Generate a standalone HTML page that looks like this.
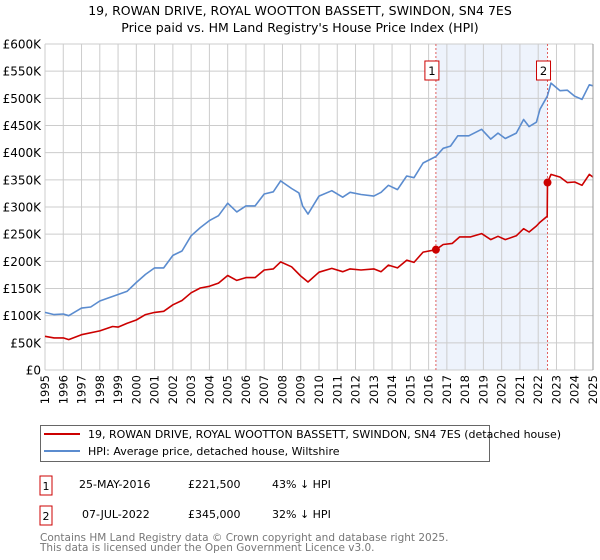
<!DOCTYPE html>
<html><head><meta charset="utf-8"><style>
body{margin:0;background:#fff;font-family:"DejaVu Sans","Liberation Sans",sans-serif;}
svg{display:block}
</style></head><body>
<svg id="chart" width="600" height="560" xmlns="http://www.w3.org/2000/svg" font-family="DejaVu Sans, Liberation Sans, sans-serif">
<text x="300" y="15" text-anchor="middle" font-size="12.5" fill="#000">19, ROWAN DRIVE, ROYAL WOOTTON BASSETT, SWINDON, SN4 7ES</text>
<text x="300" y="32" text-anchor="middle" font-size="12.5" fill="#000">Price paid vs. HM Land Registry's House Price Index (HPI)</text>
<g id="plot"></g>
<g>
<rect x="40.5" y="425.5" width="449" height="36" fill="#fff" stroke="#666"/>
<line x1="44" y1="434" x2="80" y2="434" stroke="#cc0000" stroke-width="2"/>
<text x="88" y="438" font-size="11">19, ROWAN DRIVE, ROYAL WOOTTON BASSETT, SWINDON, SN4 7ES (detached house)</text>
<line x1="44" y1="451" x2="80" y2="451" stroke="#5b8ccf" stroke-width="2"/>
<text x="88" y="455" font-size="11">HPI: Average price, detached house, Wiltshire</text>
</g>
<g font-size="11">
<rect x="40" y="476" width="12" height="19" fill="#fff" stroke="#cc0000"/>
<text x="46" y="490" text-anchor="middle">1</text>
<text x="79" y="488">25-MAY-2016</text>
<text x="188" y="488">£221,500</text>
<text x="272" y="488">43% ↓ HPI</text>
<rect x="40" y="506" width="12" height="19" fill="#fff" stroke="#cc0000"/>
<text x="46" y="520" text-anchor="middle">2</text>
<text x="82" y="518">07-JUL-2022</text>
<text x="188" y="518">£345,000</text>
<text x="272" y="518">32% ↓ HPI</text>
</g>
<text x="40" y="541" font-size="10.5" fill="#777">Contains HM Land Registry data © Crown copyright and database right 2025.</text>
<text x="40" y="551" font-size="10.5" fill="#777">This data is licensed under the Open Government Licence v3.0.</text>
</svg>
<script>
const hpiYears=[1995,1995.5,1996,1996.3,1997,1997.5,1998,1998.5,1999,1999.5,2000,2000.5,2001,2001.5,2002,2002.5,2003,2003.5,2004,2004.5,2005,2005.5,2006,2006.5,2007,2007.5,2007.9,2008.5,2008.9,2009.1,2009.4,2010,2010.7,2011.3,2011.7,2012.3,2013,2013.4,2013.8,2014.3,2014.8,2015.2,2015.7,2016.4,2016.8,2017.2,2017.6,2018.2,2018.9,2019.4,2019.8,2020.2,2020.8,2021.2,2021.5,2021.9,2022.1,2022.5,2022.7,2023.2,2023.6,2024,2024.4,2024.8,2025];
const hpiValues=[106,102,103,100,114,116,127,133,139,145,161,176,188,188,211,219,247,262,275,284,307,291,302,302,324,328,348,334,326,302,287,320,330,318,327,323,320,327,340,332,357,354,381,393,408,412,431,431,443,425,436,426,436,461,448,456,480,504,528,514,515,504,498,525,523];
const paidYears=[1995,1995.5,1996,1996.3,1997,1998,1998.7,1999,1999.5,2000,2000.5,2001,2001.5,2002,2002.5,2003,2003.5,2004,2004.5,2005,2005.5,2006,2006.5,2007,2007.5,2007.9,2008.5,2009,2009.4,2010,2010.7,2011.3,2011.7,2012.3,2013,2013.4,2013.8,2014.3,2014.8,2015.2,2015.7,2016.4,2016.8,2017.3,2017.7,2018.3,2018.9,2019.4,2019.8,2020.2,2020.8,2021.2,2021.5,2021.9,2022.1,2022.49,2022.51,2022.7,2023.2,2023.6,2024,2024.4,2024.8,2025];
const paidValues=[62,59,59,56,65,72,80,79,86,92,102,106,108,120,128,142,151,154,160,174,165,170,170,184,186,199,190,173,162,180,187,181,186,184,186,181,193,188,202,198,217,221.5,231,233,245,245,251,240,246,240,247,260,254,265,272,283,345,360,355,345,346,340,360,355];
const saleYears=[2016.4,2022.51];
const saleValues=[221.5,345];
const saleLabels=["1","2"];
const yTicks=[0,50,100,150,200,250,300,350,400,450,500,550,600];
const yTickLabels=["£0","£50K","£100K","£150K","£200K","£250K","£300K","£350K","£400K","£450K","£500K","£550K","£600K"];
const xTicks=[1995,1996,1997,1998,1999,2000,2001,2002,2003,2004,2005,2006,2007,2008,2009,2010,2011,2012,2013,2014,2015,2016,2017,2018,2019,2020,2021,2022,2023,2024,2025];

const X0=45,X1=593,Y0=370,Y1=44;
const xs=y=>X0+(y-1995)/30*(X1-X0);
const ys=v=>Y0-v/600*(Y0-Y1);
const NS="http://www.w3.org/2000/svg";
const g=document.getElementById('plot');
function mk(t,a,p){const e=document.createElementNS(NS,t);for(const k in a)e.setAttribute(k,a[k]);(p||g).appendChild(e);return e;}

mk('rect',{x:xs(saleYears[0]),y:Y1,width:xs(saleYears[1])-xs(saleYears[0]),height:Y0-Y1,fill:'#eef3fc'});
for(const t of xTicks){
  const l=mk('line',{x1:xs(t),x2:xs(t),y1:Y1,y2:Y0,stroke:'#ccc','stroke-width':1});
  
  
  const tx=mk('text',{x:0,y:0,'font-size':11.5,'text-anchor':'end',transform:`translate(${xs(t)+4},${Y0+5}) rotate(-90)`});
  tx.textContent=t;
  
  
}
yTicks.forEach((t,i)=>{
  const l=mk('line',{x1:X0,x2:X1,y1:ys(t),y2:ys(t),stroke:'#ccc','stroke-width':1});
  
  
  const tx=mk('text',{x:41,y:ys(t)+4.5,'font-size':12,'text-anchor':'end'});
  tx.textContent=yTickLabels[i];
  
  
});
saleYears.forEach((s,i)=>{
  const l=mk('line',{x1:xs(s),x2:xs(s),y1:Y1,y2:Y0,stroke:'#e06060','stroke-dasharray':'2,2','stroke-width':1});
  
  
});
function path(xa,va,color,name){
  const d=xa.map((x,i)=>(i?'L':'M')+xs(x).toFixed(1)+','+ys(va[i]).toFixed(1)).join('');
  const p=mk('path',{d:d,fill:'none',stroke:color,'stroke-width':1.6,'stroke-linejoin':'round'});
  
  
}
path(hpiYears,hpiValues,'#5b8ccf','hpi-line');
path(paidYears,paidValues,'#cc0000','price-paid-line');
saleYears.forEach((s,i)=>{
  const c=mk('circle',{cx:xs(s),cy:ys(saleValues[i]),r:4,fill:'#cc0000'});
  
  
  const r=mk('rect',{x:xs(s)-11,y:61,width:14,height:19,fill:'#fff',stroke:'#cc0000'});
  
  
  const t=mk('text',{x:xs(s)-4,y:75,'font-size':11.5,'text-anchor':'middle'});
  t.textContent=saleLabels[i];
  
  
});
const ax=mk('line',{x1:X1,x2:X1,y1:Y1,y2:Y0,stroke:'#999'});


</script>
</body></html>
